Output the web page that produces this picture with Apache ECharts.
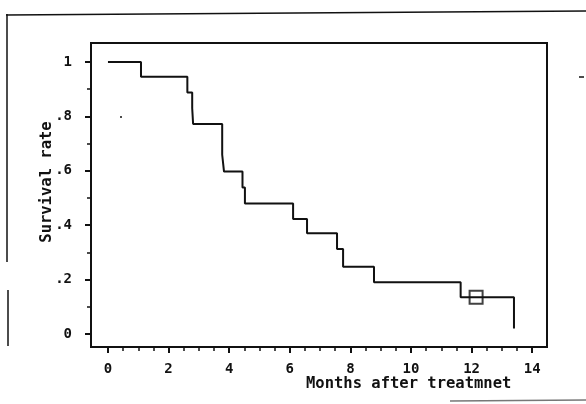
<!DOCTYPE html>
<html lang="en">
<head>
  <meta charset="UTF-8">
  <title>Survival rate</title>
  <script src="https://cdn.jsdelivr.net/npm/echarts@6/dist/echarts.min.js"></script>
  <style>
    html, body { margin: 0; padding: 0; background: #fff; }
    #chart1 { width: 586px; height: 404px; }
  </style>
</head>
<body>
<div id="chart1"></div>
<script type="text/javascript">
  // step curve: month of each drop and the survival rate right after it
  var months = [0, 1.09, 2.62, 2.78, 2.81, 3.77, 3.83, 4.44, 4.52, 6.11, 6.57, 7.56, 7.76, 8.78, 11.64, 13.4];
  var survival = [1, 0.946, 0.888, 0.83, 0.772, 0.659, 0.597, 0.539, 0.48, 0.423, 0.37, 0.3125, 0.2475, 0.19, 0.135, 0.02];
  // censored case (square)
  var censorMonths = [12.15];
  var censorSurvival = [0.135];
  // axis ticks
  var xTicks = [0, 2, 4, 6, 8, 10, 12, 14];
  var xMinorTicks = [0.5, 1, 1.5, 2.5, 3, 3.5, 4.5, 5, 5.5, 6.5, 7, 7.5, 8.5, 9, 9.5, 10.5, 11, 11.5, 12.5, 13, 13.5];
  var yTicks = [0, 0.2, 0.4, 0.6, 0.8, 1];
  var yMinorTicks = [0.1, 0.3, 0.5, 0.7, 0.9];

  var ink = '#111';
  var mono = "'DejaVu Sans Mono', 'Liberation Mono', monospace";

  var curve = months.map(function (m, i) { return [m, survival[i]]; });
  var censored = censorMonths.map(function (m, i) { return [m, censorSurvival[i]]; });

  // the box runs a little past 0..14 and 0..1
  var xRange = [-0.56, 14.49];
  var yRange = [-0.048, 1.07];

  function yText(v) {
    var s = String(Number(v.toFixed(1)));
    return s.replace(/^0\./, '.');
  }

  var majorTick = { color: ink, width: 2 };
  var minorTick = { color: ink, width: 1.5 };

  var myChart1 = echarts.init(document.getElementById('chart1'));
  myChart1.setOption({
    animation: false,
    backgroundColor: '#fff',
    grid: {
      left: 91, top: 43, width: 456, height: 304,
      show: true, borderColor: ink, borderWidth: 2, backgroundColor: 'transparent'
    },
    xAxis: [
      {
        type: 'value', position: 'bottom',
        min: xRange[0], max: xRange[1],
        axisLine: { show: false, onZero: false },
        splitLine: { show: false },
        axisTick: { show: true, inside: false, length: 6, customValues: xTicks, lineStyle: majorTick },
        axisLabel: { color: ink, fontFamily: mono, fontSize: 14, fontWeight: 'bold', margin: 15, customValues: xTicks }
      },
      {
        type: 'value', position: 'bottom', offset: 0,
        min: xRange[0], max: xRange[1],
        axisLine: { show: false, onZero: false },
        splitLine: { show: false },
        axisTick: { show: true, inside: false, length: 4, customValues: xMinorTicks, lineStyle: minorTick },
        axisLabel: { show: false }
      }
    ],
    yAxis: [
      {
        type: 'value', position: 'left',
        min: yRange[0], max: yRange[1],
        axisLine: { show: false, onZero: false },
        splitLine: { show: false },
        axisTick: { show: true, inside: false, length: 6, customValues: yTicks, lineStyle: majorTick },
        axisLabel: { color: ink, fontFamily: mono, fontSize: 14, fontWeight: 'bold', margin: 19, customValues: yTicks, formatter: yText }
      },
      {
        type: 'value', position: 'left', offset: 0,
        min: yRange[0], max: yRange[1],
        axisLine: { show: false, onZero: false },
        splitLine: { show: false },
        axisTick: { show: true, inside: false, length: 4, customValues: yMinorTicks, lineStyle: minorTick },
        axisLabel: { show: false }
      }
    ],
    graphic: [
      // axis titles
      { type: 'text', left: 306, top: 376, style: { text: 'Months after treatmnet', font: 'bold 15.5px ' + mono, fill: ink } },
      { type: 'text', x: 47, y: 182, rotation: Math.PI / 2, style: { text: 'Survival rate', font: 'bold 15.5px ' + mono, fill: ink, align: 'center', verticalAlign: 'middle' } },
      // scan edges of the page
      { type: 'line', shape: { x1: 6, y1: 15, x2: 586, y2: 11 }, style: { stroke: ink, lineWidth: 1.5 } },
      { type: 'line', shape: { x1: 7, y1: 14, x2: 7, y2: 262 }, style: { stroke: ink, lineWidth: 1.5 } },
      { type: 'line', shape: { x1: 8, y1: 290, x2: 8, y2: 346 }, style: { stroke: ink, lineWidth: 1.5 } },
      { type: 'line', shape: { x1: 450, y1: 401, x2: 586, y2: 400 }, style: { stroke: '#777', lineWidth: 1.5 } },
      { type: 'line', shape: { x1: 579, y1: 77, x2: 584, y2: 77 }, style: { stroke: ink, lineWidth: 1.5 } },
      { type: 'circle', shape: { cx: 121, cy: 117, r: 1 }, style: { fill: ink } }
    ],
    series: [
      {
        name: 'Survival rate',
        type: 'line',
        step: 'end',
        showSymbol: false,
        symbol: 'none',
        data: curve,
        lineStyle: { color: ink, width: 2 }
      },
      {
        name: 'Censored',
        type: 'scatter',
        symbol: 'rect',
        symbolSize: 13,
        data: censored,
        itemStyle: { color: 'transparent', borderColor: ink, borderWidth: 2 }
      }
    ]
  });
</script>
</body>
</html>
